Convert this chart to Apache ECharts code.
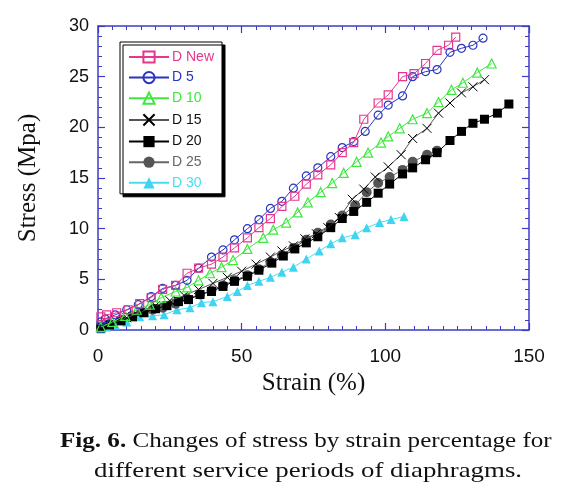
<!DOCTYPE html>
<html>
<head>
<meta charset="utf-8">
<script src="https://cdn.jsdelivr.net/npm/echarts@6/dist/echarts.min.js"></script>
<style>
html,body{margin:0;padding:0;background:#fff;}
#chart{width:570px;height:495px;}
</style>
</head>
<body>
<div id="chart"></div>
<script>
// Series names
const seriesNames = ['D New', 'D 5', 'D 10', 'D 15', 'D 20', 'D 25', 'D 30'];
// Axis ticks
const xTicks = [0, 50, 100, 150];
const yTicks = [0, 5, 10, 15, 20, 25, 30];
// Data: [strain %, stress MPa]
const dNew = [[1,1.3],[3,1.5],[6.5,1.7],[10.5,2.0],[14.5,2.6],[18.5,3.2],[22.5,4.0],[27,4.4],[31,5.6],[35,6.1],[39.5,6.5],[43.5,7.2],[47.5,8.1],[52,9.1],[56,10.1],[60,11.0],[64,12.2],[68.5,13.2],[72.5,14.4],[76.5,15.3],[81,16.3],[85,17.5],[89,18.5],[92.5,20.8],[97.5,22.4],[101,23.2],[106,25.0],[110,25.3],[114,26.3],[118,27.6],[122,28.1],[124.5,28.9]];
const d5 = [[1,0.8],[2.5,1.1],[6,1.5],[10,2.0],[14,2.5],[18.5,3.3],[22.5,4.1],[27,4.4],[31,4.9],[35,6.1],[39.5,7.2],[43.5,7.9],[47.5,8.9],[52,10.0],[56,10.9],[60,12.0],[64,12.7],[68,14.0],[72.5,15.2],[76.5,16.0],[81,17.1],[85,18.0],[89,18.6],[93,19.6],[97.5,21.2],[101,22.2],[106,23.1],[109.5,25.0],[114,25.5],[118,25.7],[122.5,27.4],[126.5,27.8],[130.5,28.1],[134,28.8]];
const d10 = [[1,0.3],[5,0.8],[9.5,1.4],[13.5,2.0],[18,2.5],[22,3.2],[27,3.8],[31,4.2],[35,4.9],[39,5.6],[43,6.2],[47,6.9],[52,8.0],[57.5,9.1],[61,9.9],[65.5,10.6],[69.5,11.6],[73,12.6],[77.5,13.6],[81.5,14.5],[85.5,15.5],[90,16.6],[94,17.5],[98.5,18.5],[101,19.1],[105,19.9],[109.5,20.8],[114.5,21.4],[118.5,22.5],[123,23.7],[127,24.4],[132,25.4],[137,26.3]];
const d15 = [[1,0.3],[5,0.7],[10,1.2],[15,1.8],[20,2.4],[25,2.9],[30,3.4],[35,4.0],[40,4.6],[45,5.2],[50,5.8],[55,6.5],[60,7.2],[64,7.8],[68,8.3],[72,9.0],[76,9.5],[80,10.1],[84,11.1],[88.5,12.9],[92.5,13.9],[96.5,15.1],[101,16.1],[105.5,17.3],[109.5,18.9],[114.5,19.9],[118.5,21.4],[122.5,22.4],[126.5,23.4],[130.5,24.0],[134.5,24.7]];
const d20 = [[1,0.2],[4,0.5],[8,0.9],[12,1.3],[16,1.7],[20,2.1],[24,2.4],[28,2.8],[31.5,3.0],[35.5,3.5],[39.5,3.8],[43.5,4.3],[47.5,4.8],[52,5.3],[56,5.9],[60.5,6.6],[64.5,7.3],[68.5,8.0],[72.5,8.6],[76.5,9.2],[81,10.1],[85,11.0],[89,11.7],[93.5,12.6],[97.5,13.5],[101.5,14.4],[106,15.4],[109.5,16.0],[114,16.8],[118,17.5],[122.5,18.7],[126.5,19.6],[130.5,20.4],[134.5,20.8],[139,21.4],[143,22.3]];
const d25 = [[1,0.3],[4,0.6],[8,1.0],[12,1.4],[15,1.8],[19,2.0],[22.5,2.2],[27,2.6],[31,3.1],[35.5,3.5],[39.5,3.9],[43.5,4.4],[47.5,4.9],[52,5.4],[56,6.0],[60,6.7],[64,7.4],[68,8.1],[72.5,8.9],[76.5,9.6],[81,10.4],[85,11.3],[89.5,12.3],[93.5,13.6],[97.5,14.5],[101.5,15.1],[106,15.8],[109.5,16.6],[114.5,17.3],[118,17.7]];
const d30 = [[1,0.1],[3,0.3],[6,0.5],[10,0.8],[14.5,1.3],[19,1.4],[23,1.5],[27.5,2.0],[32,2.2],[36,2.7],[40,2.8],[45,3.3],[48.5,3.8],[52,4.4],[56,4.8],[60,5.2],[64,5.7],[68,6.2],[72.5,7.0],[77,7.8],[81,8.5],[85,9.1],[89.5,9.4],[93.5,10.1],[98,10.6],[102,10.9],[106.5,11.2]];
// Caption text
const captionBold = 'Fig. 6.';
const captionLine1 = ' Changes of stress by strain percentage for';
const captionLine2 = 'different service periods of diaphragms.';

const seriesData = [dNew, d5, d10, d15, d20, d25, d30];
const lineColors = ['#e6378e', '#2a35c0', '#3ee83e', '#555555', '#000000', '#666666', '#45def2'];
const textColors = ['#e6378e', '#2a35c0', '#3ee83e', '#111111', '#111111', '#666666', '#45def2'];
const markerStyles = [
  {symbol:'rect', size:8, item:{color:'rgba(255,255,255,0)', borderColor:'#e6378e', borderWidth:1.2}},
  {symbol:'circle', size:8, item:{color:'rgba(255,255,255,0)', borderColor:'#2a35c0', borderWidth:1.2}},
  {symbol:'triangle', size:9, item:{color:'rgba(255,255,255,0)', borderColor:'#3ee83e', borderWidth:1.2}},
  {symbol:'path://M0,0L10,10M10,0L0,10', size:9, item:{color:'none', borderColor:'#000', borderWidth:1}},
  {symbol:'rect', size:9, item:{color:'#000', borderWidth:0}},
  {symbol:'circle', size:10, item:{color:'#555', borderWidth:0}},
  {symbol:'triangle', size:9, item:{color:'#3fd4f0', borderWidth:0}}
];

const axisBlue = '#3b3bc8';
function xAxisCfg(pos, showLabel){
  return {
    type:'value', position:pos, min:xTicks[0], max:xTicks[xTicks.length-1], interval:xTicks[1]-xTicks[0],
    axisLine:{show:true, onZero:false, lineStyle:{color:axisBlue, width:1.5}},
    axisTick:{show:true, inside:true, length:7, lineStyle:{color:axisBlue, width:1.2}},
    minorTick:{show:true, splitNumber:10, length:4, lineStyle:{color:axisBlue, width:1}},
    splitLine:{show:false},
    axisLabel:{show:showLabel, color:'#111', fontFamily:'Liberation Sans', fontSize:19, margin:17},
    name: showLabel ? 'Strain (%)' : '', nameLocation:'middle', nameGap:40,
    nameTextStyle:{fontFamily:'Liberation Serif', fontSize:25, color:'#111'}
  };
}
function yAxisCfg(pos, showLabel){
  return {
    type:'value', position:pos, min:yTicks[0], max:yTicks[yTicks.length-1], interval:yTicks[1]-yTicks[0],
    axisLine:{show:true, onZero:false, lineStyle:{color:axisBlue, width:1.5}},
    axisTick:{show:true, inside:true, length:7, lineStyle:{color:axisBlue, width:1.2}},
    minorTick:{show:true, splitNumber:5, length:4, lineStyle:{color:axisBlue, width:1}},
    splitLine:{show:false},
    axisLabel:{show:showLabel, color:'#111', fontFamily:'Liberation Sans', fontSize:18, margin:9},
    name: showLabel ? 'Stress (Mpa)' : '', nameLocation:'middle', nameGap:57,
    nameTextStyle:{fontFamily:'Liberation Serif', fontSize:25, color:'#111'}
  };
}

const chart = echarts.init(document.getElementById('chart'), null, {renderer:'canvas'});
const option = {
  animation:false,
  backgroundColor:'#fff',
  grid:{left:98, top:26, width:431, height:304, containLabel:false},
  xAxis:[xAxisCfg('bottom', true), xAxisCfg('top', false)],
  yAxis:[yAxisCfg('left', true), yAxisCfg('right', false)],
  legend:{
    orient:'vertical', left:120, top:42,
    padding:[8,8,4,8], itemGap:6.6, itemWidth:40, itemHeight:14,
    backgroundColor:'#fff', borderColor:'#000', borderWidth:1,
    shadowColor:'#000', shadowBlur:0, shadowOffsetX:3, shadowOffsetY:3,
    textStyle:{fontFamily:'Liberation Sans', fontSize:14, lineHeight:14, padding:[0,0,0,-2]},
    data: seriesNames.map((n,i)=>({name:n, textStyle:{color:textColors[i]}}))
  },
  graphic:[
    {type:'text', x:60, y:441, scaleX:1.14, style:{
      text:'{b|' + captionBold + '}' + captionLine1,
      font:'22px "Liberation Serif"', fill:'#111', verticalAlign:'middle',
      rich:{b:{fontWeight:'bold', fontFamily:'Liberation Serif', fontSize:22, fill:'#111'}}
    }},
    {type:'text', x:94, y:471, scaleX:1.22, style:{
      text:captionLine2,
      font:'22px "Liberation Serif"', fill:'#111', verticalAlign:'middle'
    }}
  ],
  series: seriesNames.map((n,i)=>({
    name:n, type:'line', xAxisIndex:0, yAxisIndex:0,
    data: seriesData[i],
    symbol: markerStyles[i].symbol, symbolSize: markerStyles[i].size,
    showAllSymbol:true,
    lineStyle:{color:lineColors[i], width:1},
    itemStyle: markerStyles[i].item,
    emphasis:{disabled:true},
    z: 10 - i
  }))
};
chart.setOption(option);
</script>
</body>
</html>
